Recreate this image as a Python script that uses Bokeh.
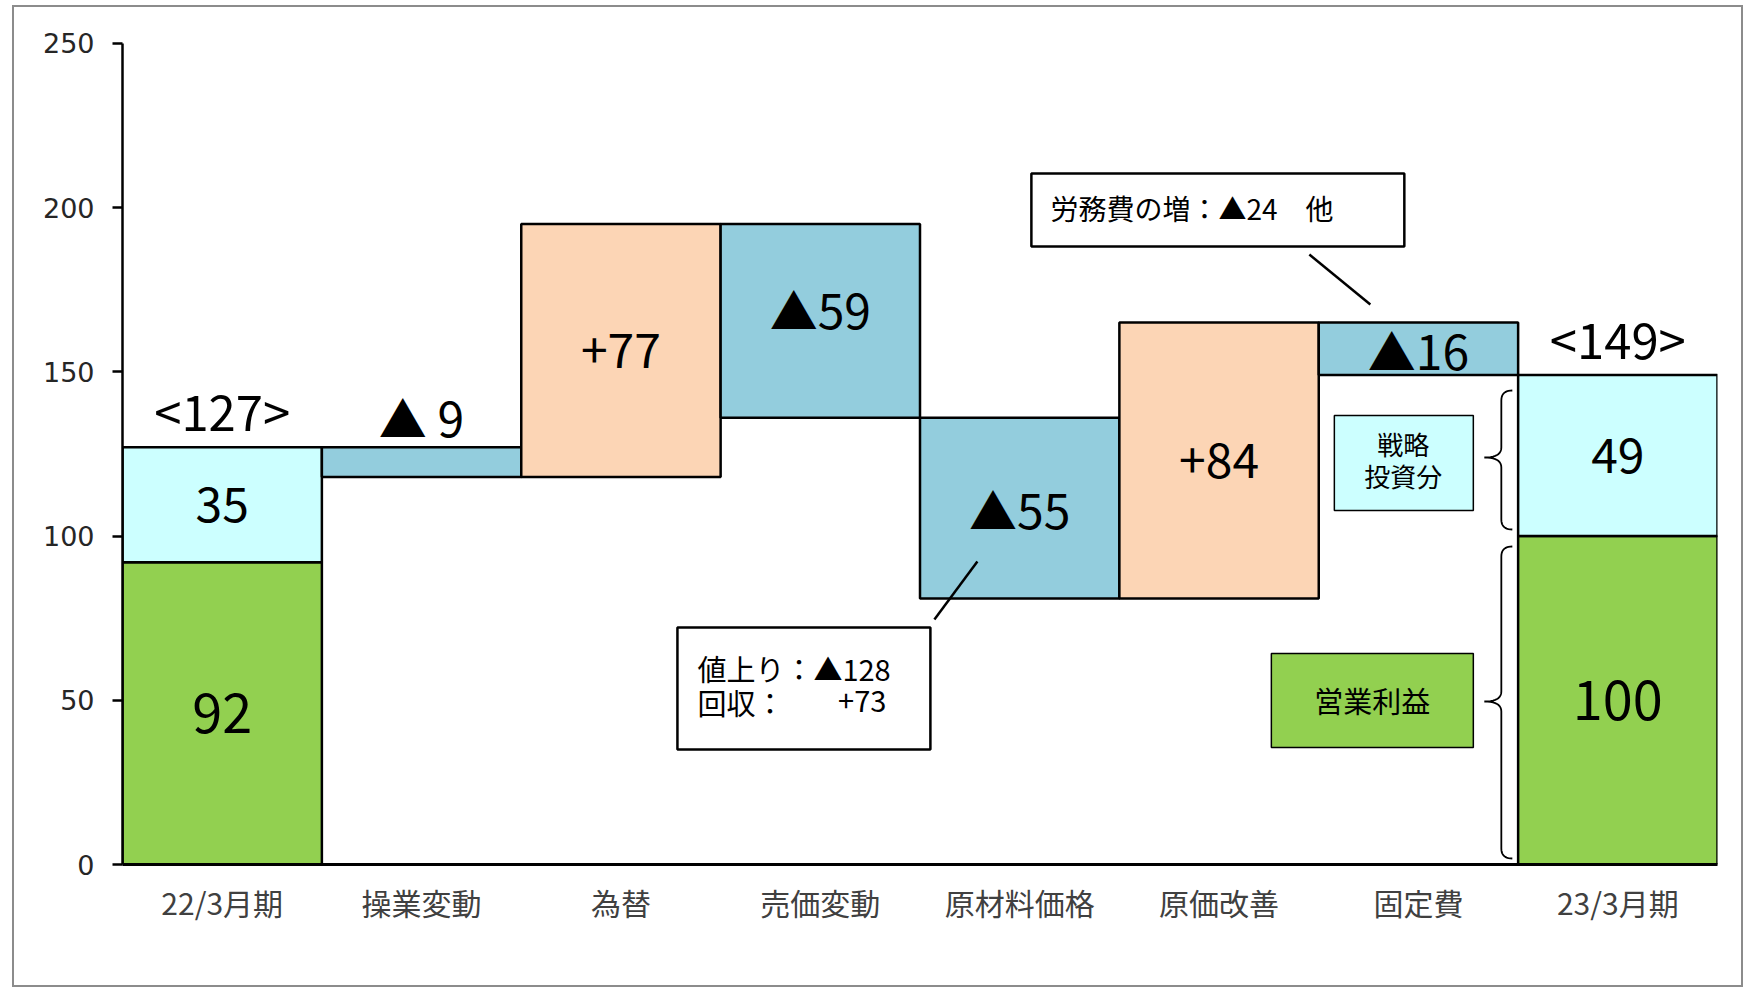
from bokeh.plotting import figure
from bokeh.models import ColumnDataSource, FactorRange, Range1d, FixedTicker
from bokeh.core.properties import value
from bokeh.embed import file_html
from bokeh.resources import INLINE

# ---------------- data ----------------
categories = ["22/3月期", "操業変動", "為替", "売価変動", "原材料価格", "原価改善", "固定費", "23/3月期"]
profit = [92, 100]            # 営業利益 (22/3月期, 23/3月期)
strategic = [35, 49]          # 戦略投資分
total_labels = ["<127>", "<149>"]
changes = [-9, 77, -59, -55, 84, -16]
change_labels = ["▲ 9", "+77", "▲59", "▲55", "+84", "▲16"]
y_ticks = [0, 50, 100, 150, 200, 250]
note_labor = "労務費の増：▲24　他"
note_price = ["値上り：▲128", "回収：", "+73"]
legend_strategic = ["戦略", "投資分"]
legend_profit = "営業利益"

# label nudges (style): extra lift of each change label, in axis units
label_lift = [9.5, 0, 4.0, 0, 0, 0]

# ---------------- derived ----------------
end_cats = [categories[0], categories[-1]]
step_cats = categories[1:-1]
totals = [a + b for a, b in zip(profit, strategic)]
level = totals[0]
bottoms, tops = [], []
for c in changes:
    new = level + c
    bottoms.append(min(level, new))
    tops.append(max(level, new))
    level = new
POS, NEG = "#FCD5B5", "#93CDDD"
GREEN, CYAN = "#92D050", "#CCFFFF"
step_colors = [POS if c > 0 else NEG for c in changes]

JP = value("Noto Sans CJK JP")

# page-pixel helpers for annotation placement (frame: left 122px, bottom 864px)
def dx(px):
    return (px - 122) / 199.4

def dy(py):
    return (864 - py) / 3.2848

W, H = 1745, 988
p = figure(x_range=FactorRange(*categories, range_padding=0, factor_padding=0),
           y_range=Range1d(0, 255.42),
           width=W, height=H, output_backend="svg", toolbar_location=None,
           min_border_left=122, min_border_right=W - 1717, min_border_top=25,
           min_border_bottom=H - 864)
p.stylesheets = [
    ":host { position: relative; }"
    ":host::after { content: ''; position: absolute; left: 12px; top: 5px; "
    "width: 1731px; height: 982px; border: 2px solid #8c8c8c; "
    "pointer-events: none; z-index: 10; box-sizing: border-box; }"
]
p.outline_line_color = None
p.xgrid.visible = False
p.ygrid.visible = False
p.background_fill_color = "white"
p.border_fill_color = "white"

# axes
p.yaxis.ticker = FixedTicker(ticks=y_ticks)
p.yaxis.bounds = (0, 250)
p.yaxis.axis_line_width = 2.5
p.yaxis.axis_line_color = "black"
p.yaxis.major_tick_line_width = 2.5
p.yaxis.major_tick_line_color = "black"
p.yaxis.major_tick_out = 10
p.yaxis.major_tick_in = 0
p.yaxis.minor_tick_line_color = None
p.yaxis.major_label_text_font = "DejaVu Sans"
p.yaxis.major_label_text_font_size = "27px"
p.yaxis.major_label_text_color = "#262626"
p.yaxis.major_label_standoff = 18

p.xaxis.axis_line_width = 3
p.xaxis.axis_line_color = "black"
p.xaxis.major_tick_line_color = None
p.xaxis.major_tick_out = 0
p.xaxis.major_tick_in = 0
p.xaxis.major_label_text_font = "Noto Sans CJK JP"
p.xaxis.major_label_text_font_size = "30px"
p.xaxis.major_label_text_color = "#404040"
p.xaxis.major_label_standoff = 15

# bars
end_src = ColumnDataSource(dict(x=end_cats, profit=profit, total=totals, strategic=strategic,
                                pmid=[v / 2 for v in profit],
                                smid=[a + b / 2 for a, b in zip(profit, strategic)],
                                tlab=[t + 11.5 for t in totals],
                                ptxt=[str(v) for v in profit], stxt=[str(v) for v in strategic],
                                ttxt=total_labels))
p.vbar(x="x", bottom=0, top="profit", width=1, fill_color=GREEN, line_color="black",
       line_width=2.5, source=end_src)
p.vbar(x="x", bottom="profit", top="total", width=1, fill_color=CYAN, line_color="black",
       line_width=2.5, source=end_src)

step_src = ColumnDataSource(dict(x=step_cats, bottom=bottoms, top=tops, color=step_colors))
p.vbar(x="x", bottom="bottom", top="top", width=1, fill_color="color", line_color="black",
       line_width=2.5, source=step_src)

# labels in / on bars
p.text(x="x", y="pmid", text="ptxt", source=end_src, text_font=JP, text_font_size="54px",
       text_align="center", text_baseline="middle", text_color="black")
p.text(x="x", y="smid", text="stxt", source=end_src, text_font=JP, text_font_size="48px",
       text_align="center", text_baseline="middle", text_color="black")
p.text(x="x", y="tlab", text="ttxt", source=end_src, text_font=JP, text_font_size="49px",
       text_align="center", text_baseline="middle", text_color="black")

label_y = []
for b, t, lift in zip(bottoms, tops, label_lift):
    if t - b < 15:
        label_y.append(t + lift)          # thin bar: label sits above it
    else:
        label_y.append((b + t) / 2 + lift)
p.text(x=step_cats, y=label_y, text=change_labels, text_font=JP, text_font_size="48px",
       text_align="center", text_baseline="middle", text_color="black")

# callout: labour costs
p.quad(left=[dx(1031)], right=[dx(1404)], top=[dy(173)], bottom=[dy(246)],
       fill_color="white", line_color="black", line_width=2.5)
p.text(x=[dx(1050)], y=[dy(207)], text=[note_labor], text_font=JP, text_font_size="28px",
       text_align="left", text_baseline="middle", text_color="black")
p.line(x=[dx(1309), dx(1370)], y=[dy(254), dy(304)], line_color="black", line_width=2.5)

# callout: price
p.quad(left=[dx(677)], right=[dx(930)], top=[dy(627)], bottom=[dy(749)],
       fill_color="white", line_color="black", line_width=2.5)
p.text(x=[dx(697), dx(697)], y=[dy(667), dy(701)], text=note_price[:2], text_font=JP,
       text_font_size="29px", text_align="left", text_baseline="middle", text_color="black")
p.text(x=[dx(886)], y=[dy(701)], text=[note_price[2]], text_font=JP,
       text_font_size="29px", text_align="right", text_baseline="middle", text_color="black")
p.line(x=[dx(934), dx(977)], y=[dy(619), dy(561)], line_color="black", line_width=2.5)

# legend boxes
p.quad(left=[dx(1334)], right=[dx(1473)], top=[dy(415)], bottom=[dy(510)],
       fill_color=CYAN, line_color="black", line_width=1.5)
p.text(x=[dx(1403), dx(1403)], y=[dy(443), dy(475)], text=legend_strategic, text_font=JP,
       text_font_size="26px", text_align="center", text_baseline="middle", text_color="black")
p.quad(left=[dx(1271)], right=[dx(1473)], top=[dy(653)], bottom=[dy(747)],
       fill_color=GREEN, line_color="black", line_width=1.5)
p.text(x=[dx(1372)], y=[dy(699)], text=[legend_profit], text_font=JP,
       text_font_size="29px", text_align="center", text_baseline="middle", text_color="black")

# curly braces (opening to the right)
def qbez(p0, c, p1, n=10):
    pts = []
    for k in range(n + 1):
        t = k / n
        x = (1 - t) ** 2 * p0[0] + 2 * (1 - t) * t * c[0] + t ** 2 * p1[0]
        y = (1 - t) ** 2 * p0[1] + 2 * (1 - t) * t * c[1] + t ** 2 * p1[1]
        pts.append((x, y))
    return pts

def brace(y_top, y_bot, y_mid, x_end=1512, x_stem=1501, x_tip=1484, r=10):
    pts = []
    pts += qbez((x_end, y_top), (x_stem, y_top), (x_stem, y_top + r))
    pts += qbez((x_stem, y_mid - r), (x_stem, y_mid), (x_tip, y_mid))
    pts += qbez((x_tip, y_mid), (x_stem, y_mid), (x_stem, y_mid + r))
    pts += qbez((x_stem, y_bot - r), (x_stem, y_bot), (x_end, y_bot))
    return [dx(a) for a, b in pts], [dy(b) for a, b in pts]

bx1, by1 = brace(390, 529, 457)
bx2, by2 = brace(546, 858, 701)
p.multi_line(xs=[bx1, bx2], ys=[by1, by2], line_color="black", line_width=1.8)

open("out.html", "w").write(file_html(p, INLINE))
